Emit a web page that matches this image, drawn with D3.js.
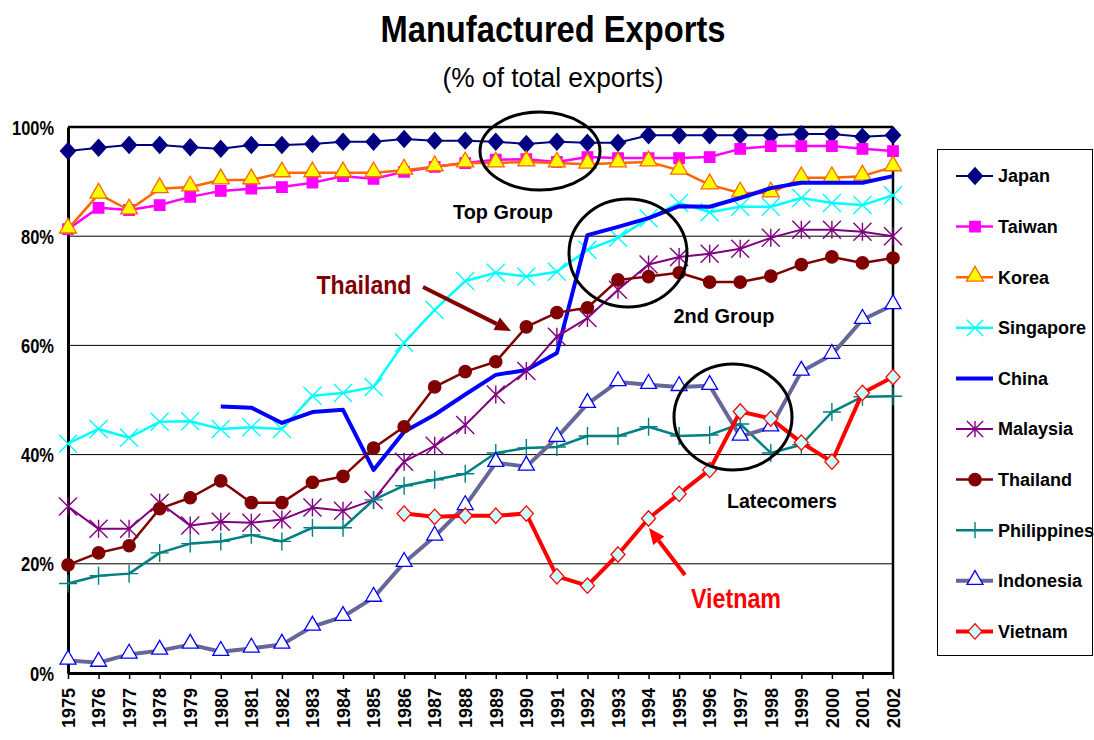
<!DOCTYPE html>
<html>
<head>
<meta charset="utf-8">
<script src="https://cdn.jsdelivr.net/npm/d3@7"></script>
<style>
  body { margin: 0; background: #fff; }
  svg text { font-family: "Liberation Sans Narrow", "Arial Narrow", "Liberation Sans", Arial, sans-serif; }
</style>
</head>
<body>
<div id="chart"></div>
<script>
const years = d3.range(1975, 2003);
const yTicks = [0, 20, 40, 60, 80, 100];

// values are % of total exports, null = no data
const japan = [95.6, 96.2, 96.7, 96.7, 96.3, 96.0, 96.7, 96.7, 96.9, 97.3, 97.3, 97.8, 97.5, 97.5, 97.3, 96.9, 97.3, 97.1, 97.1, 98.5, 98.5, 98.5, 98.5, 98.5, 98.7, 98.7, 98.2, 98.5];
const taiwan = [81.3, 85.2, 84.8, 85.7, 87.2, 88.3, 88.7, 89.0, 89.8, 91.0, 90.5, 91.8, 92.7, 93.4, 94.0, 94.1, 93.6, 94.5, 94.3, 94.3, 94.3, 94.5, 96.0, 96.5, 96.5, 96.5, 96.0, 95.6];
const korea = [81.3, 87.7, 84.8, 88.7, 89.0, 90.3, 90.3, 91.6, 91.6, 91.6, 91.6, 92.1, 92.7, 93.4, 93.4, 93.6, 93.4, 93.2, 93.4, 93.6, 92.1, 89.4, 87.9, 87.9, 90.7, 90.7, 91.0, 92.7];
const singapore = [42.0, 44.7, 43.1, 46.0, 46.1, 44.7, 45.0, 44.7, 50.8, 51.3, 52.4, 60.5, 66.5, 71.8, 73.3, 72.6, 73.5, 77.5, 79.7, 83.3, 86.1, 84.4, 85.4, 85.4, 87.0, 86.1, 85.7, 87.5];
const china = [null, null, null, null, null, 48.8, 48.6, 45.8, 47.8, 48.2, 37.2, 44.2, 47.3, 51.0, 54.6, 55.5, 58.6, 80.2, 81.7, 83.3, 85.5, 85.4, 87.0, 88.8, 89.8, 89.8, 89.8, 91.0];
const malaysia = [30.5, 26.4, 26.4, 31.2, 27.0, 27.7, 27.5, 28.1, 30.3, 29.7, 31.7, 38.7, 41.6, 45.4, 51.0, 55.3, 61.6, 65.0, 70.2, 74.8, 76.2, 76.8, 77.7, 79.7, 81.2, 81.2, 80.8, 80.0];
const thailand = [19.8, 22.0, 23.3, 30.1, 32.1, 35.2, 31.2, 31.2, 34.9, 36.0, 41.2, 45.1, 52.4, 55.2, 57.0, 63.4, 66.0, 66.9, 72.0, 72.6, 73.3, 71.6, 71.6, 72.7, 74.8, 76.2, 75.1, 76.0];
const philippines = [16.4, 17.8, 18.2, 22.0, 23.7, 24.1, 25.3, 24.1, 26.6, 26.6, 31.7, 34.3, 35.4, 36.5, 40.3, 41.2, 41.4, 43.4, 43.4, 45.1, 43.4, 43.6, 45.6, 40.3, 41.8, 47.8, 50.6, 50.7];
const indonesia = [2.3, 1.9, 3.4, 4.1, 5.2, 3.9, 4.5, 5.2, 8.5, 10.3, 13.8, 20.2, 25.0, 30.6, 38.5, 37.8, 43.1, 49.3, 53.3, 52.8, 52.4, 52.6, 43.3, 45.0, 55.2, 58.3, 64.7, 67.4];
const vietnam = [null, null, null, null, null, null, null, null, null, null, null, 29.2, 28.6, 28.8, 28.8, 29.2, 17.7, 16.0, 21.7, 28.3, 32.8, 37.2, 47.9, 46.6, 42.2, 38.7, 51.3, 54.2];

const series = [
  { name: 'Japan', values: japan, line: '#000080', width: 2, marker: 'diamond', size: 7.5, fill: '#000080', stroke: '#000080' },
  { name: 'Taiwan', values: taiwan, line: '#ff00ff', width: 2.5, marker: 'square', size: 110, fill: '#ff00ff', stroke: '#ff00ff' },
  { name: 'Korea', values: korea, line: '#ff6600', width: 2.5, marker: 'triangle', size: 125, fill: '#ffff00', stroke: '#ff6600' },
  { name: 'Singapore', values: singapore, line: '#00ffff', width: 2.5, marker: 'x', size: 9, fill: 'none', stroke: '#00ffff' },
  { name: 'China', values: china, line: '#0000ff', width: 4, marker: null },
  { name: 'Malaysia', values: malaysia, line: '#800080', width: 2, marker: 'star', size: 9, fill: 'none', stroke: '#800080' },
  { name: 'Thailand', values: thailand, line: '#800000', width: 2.5, marker: 'circle', size: 120, fill: '#800000', stroke: '#800000' },
  { name: 'Philippines', values: philippines, line: '#008080', width: 2.5, marker: 'plus', size: 9, fill: 'none', stroke: '#008080' },
  { name: 'Indonesia', values: indonesia, line: '#666699', width: 4, marker: 'triangle', size: 110, fill: '#ffffff', stroke: '#0000ff' },
  { name: 'Vietnam', values: vietnam, line: '#ff0000', width: 4, marker: 'diamond', size: 7, fill: '#ccffff', stroke: '#ff0000' }
];

const W = 1094, H = 740;
const margin = { top: 127, right: 201, bottom: 67, left: 68 };
const width = W - margin.left - margin.right;
const height = H - margin.top - margin.bottom;

const svg = d3.select('#chart').append('svg')
  .attr('width', W).attr('height', H);

const x = d3.scalePoint().domain(years).range([0, width]);
const y = d3.scaleLinear().domain([0, 100]).range([height, 0]);

// title
svg.append('text').attr('x', 553).attr('y', 42).attr('text-anchor', 'middle')
  .attr('textLength', 345).attr('lengthAdjust', 'spacingAndGlyphs')
  .style('font-size', '36px').style('font-weight', 'bold').text('Manufactured Exports');
svg.append('text').attr('x', 553).attr('y', 87).attr('text-anchor', 'middle')
  .attr('textLength', 221).attr('lengthAdjust', 'spacingAndGlyphs')
  .style('font-size', '27px').text('(% of total exports)');

const g = svg.append('g').attr('transform', 'translate(' + margin.left + ',' + margin.top + ')');

// grid
g.append('g').selectAll('line').data(yTicks.filter(d => d > 0 && d < 100)).enter()
  .append('line')
  .attr('x1', 0).attr('x2', width)
  .attr('y1', d => y(d)).attr('y2', d => y(d))
  .attr('stroke', '#000').attr('stroke-width', 1);

// frame top + right
g.append('line').attr('x1', 0).attr('x2', width).attr('y1', 0).attr('y2', 0)
  .attr('stroke', '#000').attr('stroke-width', 2.5);
g.append('line').attr('x1', width).attr('x2', width).attr('y1', 0).attr('y2', height)
  .attr('stroke', '#000').attr('stroke-width', 2.5);

// y axis
const yAxis = g.append('g').call(d3.axisLeft(y).tickValues(yTicks).tickSize(0).tickPadding(14).tickFormat(d => d + '%'));
yAxis.select('.domain').attr('stroke-width', 3);
yAxis.selectAll('text').style('font-size', '20px').style('font-weight', 'bold')
  .attr('font-family', null).attr('dy', '0.35em')
  .attr('textLength', d => d === 100 ? 42 : d === 0 ? 24 : 33).attr('lengthAdjust', 'spacingAndGlyphs');

// x axis
const xAxis = g.append('g').attr('transform', 'translate(0,' + height + ')')
  .call(d3.axisBottom(x).tickSize(6).tickSizeOuter(0));
xAxis.select('.domain').attr('stroke-width', 3);
xAxis.selectAll('.tick line').attr('stroke-width', 1.5);
xAxis.selectAll('text')
  .attr('font-family', null)
  .style('font-size', '18px').style('font-weight', 'bold')
  .attr('transform', 'rotate(-90)')
  .attr('text-anchor', 'end')
  .attr('x', -15).attr('y', 0).attr('dy', '0.35em');

const lineGen = d3.line()
  .defined(d => d != null)
  .x((d, i) => x(years[i]))
  .y(d => y(d));

function drawMarker(sel, s, cx, cy, scale) {
  const k = scale || 1;
  if (!s.marker) return;
  if (s.marker === 'diamond') {
    const r = s.size * k, h = r * 1.1;
    sel.append('path')
      .attr('d', 'M0,' + (-h) + 'L' + r + ',0L0,' + h + 'L' + (-r) + ',0Z')
      .attr('transform', 'translate(' + cx + ',' + cy + ')')
      .attr('fill', s.fill).attr('stroke', s.stroke).attr('stroke-width', 1.3);
  } else if (s.marker === 'square' || s.marker === 'triangle' || s.marker === 'circle') {
    const type = { square: d3.symbolSquare, triangle: d3.symbolTriangle, circle: d3.symbolCircle }[s.marker];
    sel.append('path')
      .attr('d', d3.symbol().type(type).size(s.size * k)())
      .attr('transform', 'translate(' + cx + ',' + (s.marker === 'triangle' ? cy - 1 : cy) + ')')
      .attr('fill', s.fill).attr('stroke', s.stroke).attr('stroke-width', 1.3);
  } else {
    const r = s.size * k;
    let d = '';
    if (s.marker === 'x' || s.marker === 'star') d += 'M' + (-r) + ',' + (-r) + 'L' + r + ',' + r + 'M' + (-r) + ',' + r + 'L' + r + ',' + (-r);
    if (s.marker === 'plus' || s.marker === 'star') d += 'M0,' + (-r) + 'L0,' + r;
    if (s.marker === 'plus') d += 'M' + (-r) + ',0L' + r + ',0';
    sel.append('path').attr('d', d)
      .attr('transform', 'translate(' + cx + ',' + cy + ')')
      .attr('fill', 'none').attr('stroke', s.stroke).attr('stroke-width', 1.4);
  }
}

series.forEach(s => {
  const sg = g.append('g');
  sg.append('path').datum(s.values)
    .attr('d', lineGen)
    .attr('fill', 'none').attr('stroke', s.line).attr('stroke-width', s.width)
    .attr('stroke-linejoin', 'round');
  s.values.forEach((v, i) => {
    if (v != null) drawMarker(sg, s, x(years[i]), y(v));
  });
});

// annotations
const ann = svg.append('g');
ann.selectAll('ellipse').data([[540, 151, 60, 39], [628, 253, 59, 54], [733, 417, 59, 53]]).enter()
  .append('ellipse')
  .attr('cx', d => d[0]).attr('cy', d => d[1]).attr('rx', d => d[2]).attr('ry', d => d[3])
  .attr('fill', 'none').attr('stroke', '#000').attr('stroke-width', 3);

function label(tx, ty, text, size, color, len) {
  ann.append('text').attr('x', tx).attr('y', ty).attr('text-anchor', 'middle')
    .attr('textLength', len).attr('lengthAdjust', 'spacingAndGlyphs')
    .style('font-size', size + 'px').style('font-weight', 'bold').attr('fill', color).text(text);
}
label(503, 219, 'Top Group', 20, '#000', 100);
label(724, 323, '2nd Group', 20, '#000', 101);
label(782, 508, 'Latecomers', 20, '#000', 110);
label(364, 294, 'Thailand', 25, '#800000', 95);
label(736, 608, 'Vietnam', 27, '#ff0000', 90);

function arrow(x1, y1, x2, y2, color) {
  const ang = Math.atan2(y2 - y1, x2 - x1);
  const L = 16, w = 7;
  const bx = x2 - L * Math.cos(ang), by = y2 - L * Math.sin(ang);
  ann.append('line').attr('x1', x1).attr('y1', y1).attr('x2', bx).attr('y2', by)
    .attr('stroke', color).attr('stroke-width', 4);
  const p = [[x2, y2],
    [bx + w * Math.sin(ang), by - w * Math.cos(ang)],
    [bx - w * Math.sin(ang), by + w * Math.cos(ang)]];
  ann.append('path').attr('d', 'M' + p.join('L') + 'Z').attr('fill', color);
}
arrow(423, 287, 511, 331, '#800000');
arrow(685, 575, 649, 528, '#ff0000');

// legend
const lg = svg.append('g');
lg.append('rect').attr('x', 937.5).attr('y', 149.5).attr('width', 155).attr('height', 506)
  .attr('fill', '#fff').attr('stroke', '#000').attr('stroke-width', 1);
series.forEach((s, i) => {
  const cy = 176 + i * 50.6;
  const it = lg.append('g');
  it.append('line').attr('x1', 956).attr('x2', 993).attr('y1', cy).attr('y2', cy)
    .attr('stroke', s.line).attr('stroke-width', s.width);
  drawMarker(it, s, 975, cy, s.marker === 'x' || s.marker === 'star' || s.marker === 'plus' ? 0.9 : 1);
  it.append('text').attr('x', 998).attr('y', cy).attr('dy', '0.35em')
    .style('font-size', '18px').style('font-weight', 'bold').text(s.name);
});
</script>
</body>
</html>
